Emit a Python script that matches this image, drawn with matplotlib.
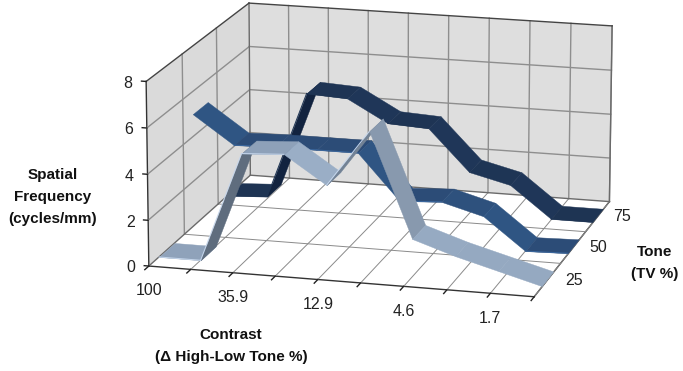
import numpy as np
import matplotlib
matplotlib.use('Agg')
import matplotlib.pyplot as plt
from matplotlib.colors import to_rgb
from mpl_toolkits.mplot3d import proj3d
from mpl_toolkits.mplot3d.art3d import Poly3DCollection

plt.rcParams['font.family'] = ['Liberation Sans', 'DejaVu Sans']

# Spatial frequency (cycles/mm) per contrast step, one list per tone
steps = np.arange(10)
contrast_labels = ['100', '', '35.9', '', '12.9', '', '4.6', '', '1.7', '']
tone_labels = ['25', '50', '75']
freq_tone_25 = [0.0, 0.0, 4.8, 4.9, 3.7, 6.15, 1.65, 1.05, 0.55, 0.05]
freq_tone_50 = [5.0, 3.75, 3.8, 3.8, 3.8, 1.8, 1.9, 1.4, 0.0, 0.05]
freq_tone_75 = [0.0, 0.1, 4.95, 4.85, 3.85, 3.75, 1.9, 1.45, 0.05, 0.05]
freq_ticks = [0, 2, 4, 6, 8]

# Ribbon shades at slopes -4, -1, 0 and +4 units per step
ribbons = [
    (2.5, freq_tone_75, ['#1F3658', '#1F3658', '#1E3453', '#12233F'], '#1E3453'),
    (1.5, freq_tone_50, ['#2F5583', '#2F5583', '#2C4C77', '#243F63'], '#3A679E'),
    (0.5, freq_tone_25, ['#8899AE', '#9BAFC8', '#8FA2BA', '#5F6D7E'], '#C5D6EC'),
]
half_width = 0.22


def slope_colour(slope, anchors):
    rgb = np.array([to_rgb(c) for c in anchors])
    return [np.interp(slope, [-4, -1, 0, 4], rgb[:, i]) for i in range(3)]


fig = plt.figure(figsize=(6.83, 3.71), dpi=100)
ax = fig.add_axes([-0.3048, -0.98637, 1.69213, 3.11516], projection='3d')
ax.patch.set_alpha(0)
ax.computed_zorder = False
ax.set_xlim(0, 9, view_margin=0)
ax.set_ylim(0, 3, view_margin=0)
ax.set_zlim(0, 8, view_margin=0)
ax.view_init(elev=15.139, azim=-74.974, roll=-0.048)
ax.set_proj_type('persp', focal_length=0.66997)
ax.set_box_aspect((2.0756, 1.8410, 1.0), zoom=0.46201)

# Walls and floor
ax.grid(False)
ax.xaxis.set_pane_color('#DADADA')
ax.yaxis.set_pane_color('#DEDEDE')
ax.zaxis.set_pane_color('#FFFFFF')
for axis in (ax.xaxis, ax.yaxis, ax.zaxis):
    axis.pane.set_edgecolor('none')
    axis.line.set_color('#333333')
    axis.line.set_linewidth(1.0)

# Gridlines drawn on the two walls and the floor
wall_grid = dict(color='#8E8E8E', lw=1.0, zorder=1)
floor_grid = dict(color='#8A8A8A', lw=0.7, zorder=1)
for x in steps[1:]:
    ax.plot([x, x], [3, 3], [0, 8], **wall_grid)
    ax.plot([x, x], [0, 3], [0, 0], **floor_grid)
for y in (1, 2):
    ax.plot([0, 0], [y, y], [0, 8], **wall_grid)
    ax.plot([0, 9], [y, y], [0, 0], **floor_grid)
for z in freq_ticks[1:-1]:
    ax.plot([0, 0], [0, 3], [z, z], **wall_grid)
    ax.plot([0, 9], [3, 3], [z, z], **wall_grid)
ax.plot([0, 0], [0, 3], [0, 0], color='#6A6A6A', lw=1.0, zorder=1)
ax.plot([0, 9], [3, 3], [0, 0], color='#6A6A6A', lw=1.0, zorder=1)
ax.plot([9, 9], [3, 3], [0, 8], color='#6A6A6A', lw=1.0, zorder=1)
ax.plot([0, 0], [3, 3], [0, 8], color='#6A6A6A', lw=1.0, zorder=1)
ax.plot([0, 0], [0, 3], [8, 8], color='#444444', lw=1.0, zorder=1)
ax.plot([0, 9], [3, 3], [8, 8], color='#444444', lw=1.0, zorder=1)

# Ribbons, back to front; segments nearer the viewer paint last
order = 2
for depth, freq, anchors, edge in ribbons:
    y0, y1 = depth - half_width, depth + half_width
    for i in range(len(steps) - 1):
        x0, x1, z0, z1 = steps[i], steps[i + 1], freq[i], freq[i + 1]
        col = slope_colour(z1 - z0, anchors)
        face = Poly3DCollection([[(x0, y0, z0), (x1, y0, z1), (x1, y1, z1), (x0, y1, z0)]],
                                facecolors=[col], edgecolors=[col], linewidths=0.3,
                                zorder=order)
        ax.add_collection3d(face)
        order += 1
        if z1 - z0 > -0.2:
            ax.plot([x0, x1], [y0, y0], [z0, z1], color=edge, lw=0.7, zorder=order)
            order += 1

# Axes
ax.set_xticks(steps, [''] * len(steps))
ax.set_yticks([])
ax.set_zticks(freq_ticks, [str(v) for v in freq_ticks], fontsize=11.5)
ax.zaxis.set_ticks_position('lower')

# Short outward tick marks along the front floor edge and the height axis
tick_style = dict(color='#222222', lw=1.0, zorder=1)
for x in steps:
    ax.plot([x, x], [0, -0.11], [0, 0], **tick_style)
for z in freq_ticks:
    ax.plot([0, -0.11], [0, 0], [z, z], **tick_style)
ax.set_xlim(0, 9, view_margin=0)
ax.set_ylim(0, 3, view_margin=0)
ax.set_zlim(0, 8, view_margin=0)

for axis in (ax.xaxis, ax.yaxis, ax.zaxis):
    axis._axinfo['tick'].update(inward_factor=0, outward_factor=0)
ax.tick_params(axis='z', pad=4, colors='#222222')
for label in ax.get_zticklabels():
    label.set_ha('right')
    label.set_va('center')


def label_at(x, y, z, text):
    # Place a label at a point of the 3D scene, projected onto the view plane
    vx, vy, _ = proj3d.proj_transform(x, y, z, ax.get_proj())
    ax.text2D(float(vx), float(vy), text, transform=ax.transData, fontsize=11.5,
              color='#222222', ha='center', va='center')


for step, text in zip(steps, contrast_labels):
    if text:
        label_at(step, 0, -1.08, text)
for depth, text in zip((0.5, 1.5, 2.5), tone_labels):
    label_at(9.6, depth, 0.08, text)

title_style = dict(fontsize=11, fontweight='bold', ha='center', va='center',
                   linespacing=1.7, color='#111111')
fig.text(53 / 683, 1 - 197 / 371, 'Spatial\nFrequency\n(cycles/mm)', **title_style)
fig.text(231 / 683, 1 - 346 / 371, 'Contrast\n(\u0394 High-Low Tone %)', **title_style)
fig.text(655 / 683, 1 - 263 / 371, 'Tone\n(TV %)', **title_style)

fig.savefig('out.png', dpi=100)
